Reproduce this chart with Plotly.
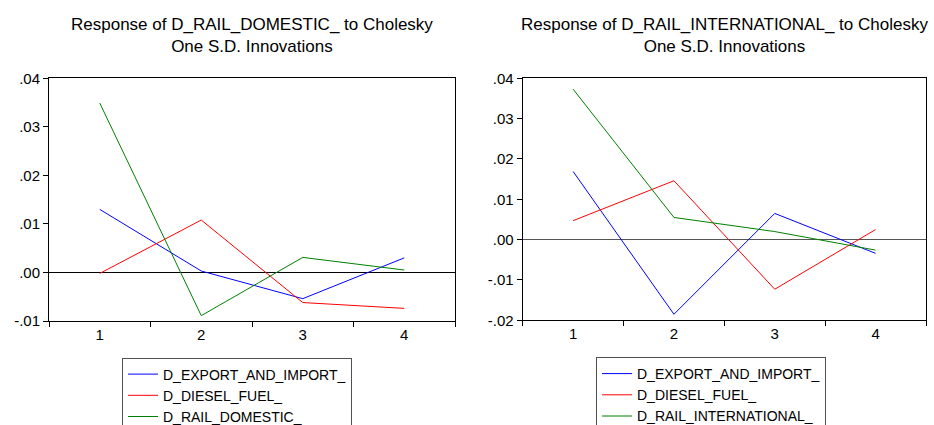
import plotly.graph_objects as go

periods = [1, 2, 3, 4]

# Left panel: Response of D_RAIL_DOMESTIC_
left_export = [0.0130, 0.0003, -0.0054, 0.0030]
left_diesel = [-0.0002, 0.0108, -0.0062, -0.0074]
left_rail = [0.0349, -0.0089, 0.0031, 0.0005]

# Right panel: Response of D_RAIL_INTERNATIONAL_
right_export = [0.0169, -0.0185, 0.0065, -0.0034]
right_diesel = [0.0047, 0.0146, -0.0123, 0.0025]
right_rail = [0.0373, 0.0055, 0.0020, -0.0026]

left_names = ["D_EXPORT_AND_IMPORT_", "D_DIESEL_FUEL_", "D_RAIL_DOMESTIC_"]
right_names = ["D_EXPORT_AND_IMPORT_", "D_DIESEL_FUEL_", "D_RAIL_INTERNATIONAL_"]
colors = ["#0000ff", "#ff0000", "#008000"]

left_yticks = [-0.01, 0.0, 0.01, 0.02, 0.03, 0.04]
left_ytext = ["-.01", ".00", ".01", ".02", ".03", ".04"]
right_yticks = [-0.02, -0.01, 0.0, 0.01, 0.02, 0.03, 0.04]
right_ytext = ["-.02", "-.01", ".00", ".01", ".02", ".03", ".04"]

left_title = "Response of D_RAIL_DOMESTIC_ to Cholesky<br>One S.D. Innovations"
right_title = "Response of D_RAIL_INTERNATIONAL_ to Cholesky<br>One S.D. Innovations"

W, H = 934, 425
FONT = "Liberation Sans, Arial, sans-serif"

fig = go.Figure()
for vals, name, col in zip([left_export, left_diesel, left_rail], left_names, colors):
    fig.add_trace(go.Scatter(x=periods, y=vals, mode="lines", name=name,
                             line=dict(color=col, width=1), xaxis="x", yaxis="y",
                             legend="legend"))
for vals, name, col in zip([right_export, right_diesel, right_rail], right_names, colors):
    fig.add_trace(go.Scatter(x=periods, y=vals, mode="lines", name=name,
                             line=dict(color=col, width=1), xaxis="x2", yaxis="y2",
                             legend="legend2"))

def xax(domain, anchor):
    return dict(domain=domain, anchor=anchor, range=[0.5, 4.5],
                tickmode="array", tickvals=periods, ticktext=[str(p) for p in periods],
                ticks="outside", ticklen=0, tickcolor="black",
                minor=dict(ticks="outside", tick0=0.5, dtick=1, ticklen=5, tickcolor="black", showgrid=False),
                showline=True, mirror=True, linecolor="black", linewidth=1,
                showgrid=False, zeroline=False,
                tickfont=dict(family=FONT, size=15, color="black"))

def yax(domain, anchor, rng, tv, tt, zc):
    return dict(domain=domain, anchor=anchor, range=rng,
                tickmode="array", tickvals=tv, ticktext=tt,
                ticks="outside", ticklen=5, tickcolor="black",
                showline=True, mirror=True, linecolor="black", linewidth=1,
                showgrid=False, zeroline=True, zerolinecolor=zc, zerolinewidth=1,
                tickfont=dict(family=FONT, size=15, color="black"))

fig.update_layout(
    width=W, height=H,
    margin=dict(l=0, r=0, t=0, b=0, autoexpand=False),
    paper_bgcolor="white", plot_bgcolor="white",
    font=dict(family=FONT, size=15, color="black"),
    xaxis=xax([49 / W, 455 / W], "y"),
    yaxis=yax([1 - 321 / H, 1 - 78.3 / H], "x", [-0.01, 0.04], left_yticks, left_ytext, "black"),
    xaxis2=xax([522.7 / W, 926 / W], "y2"),
    yaxis2=yax([1 - 320.3 / H, 1 - 78.3 / H], "x2", [-0.02, 0.04], right_yticks, right_ytext, "#555555"),
    legend=dict(x=122 / W, y=1 - 357.5 / H, xanchor="left", yanchor="top",
                bordercolor="#505050", borderwidth=1, bgcolor="white",
                font=dict(family=FONT, size=14, color="black"), tracegroupgap=0),
    legend2=dict(x=596 / W, y=1 - 357 / H, xanchor="left", yanchor="top",
                 bordercolor="#505050", borderwidth=1, bgcolor="white",
                 font=dict(family=FONT, size=14, color="black"), tracegroupgap=0),
    showlegend=True,
    annotations=[
        dict(text=left_title, x=(49 + 455) / 2 / W, y=1 - 13 / H, xref="paper", yref="paper",
             xanchor="center", yanchor="top", showarrow=False,
             font=dict(family=FONT, size=17, color="black")),
        dict(text=right_title, x=(522.7 + 926) / 2 / W, y=1 - 13 / H, xref="paper", yref="paper",
             xanchor="center", yanchor="top", showarrow=False,
             font=dict(family=FONT, size=17, color="black")),
    ],
)

fig.write_html("out.html", config={"displayModeBar": False},
               post_script="document.body.style.margin='0px';")
